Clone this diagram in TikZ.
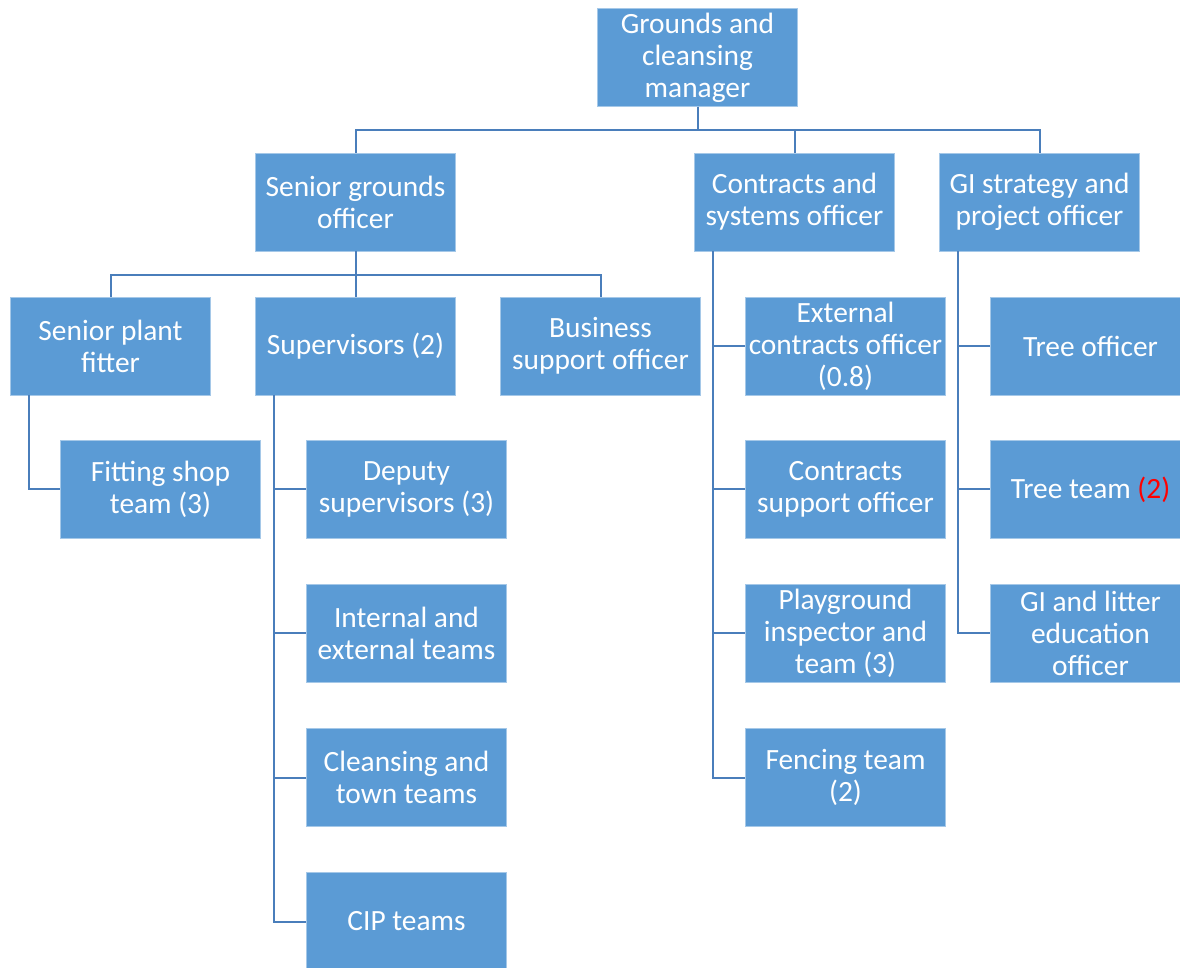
\documentclass[tikz,border=0pt]{standalone}
\usepackage{fontspec}
\setmainfont{Carlito}
\usetikzlibrary{calc}
\definecolor{boxblue}{RGB}{91,155,213}
\definecolor{linkblue}{RGB}{74,126,187}
\tikzset{every node/.style={font=\fontsize{14.7}{16}\selectfont},
box/.style={fill=boxblue,draw=boxblue!55!white,line width=.4pt,text=white,align=center,minimum width=100pt,minimum height=49pt,inner sep=0pt},
link/.style={draw=linkblue,line width=1pt}}

\begin{document}
\begin{tikzpicture}[x=.5pt,y=-.5pt]
\useasboundingbox (0,0) rectangle (1180,968);
% top and second row
\node[box] (mgr) at (697.5,57.5){Grounds and\\cleansing\\manager};
\node[box] (sgo) at (355.5,202){Senior grounds\\officer};\node[box] (con) at (794.5,202){Contracts and\\systems officer};
\node[box] (gis) at (1039.5,202){GI strategy and\\project officer};
% third row
\node[box] (fit) at (110.5,346){Senior plant\\fitter};\node[box] (sup) at (355.5,346){Supervisors (2)};
\node[box] (bus) at (600.5,346){Business\\support officer};
\node[box] (shop) at (160.5,489.5){Fitting shop\\team (3)};
% columns
\foreach \n/\y/\t in {dep/489.5/{Deputy\\supervisors (3)},ine/633.5/{Internal and\\external teams},cle/777.5/{Cleansing and\\town teams},cip/921.5/{CIP teams}}{\node[box] (\n) at (406.5,\y){\t};}
\foreach \n/\y/\t in {ext/346/{External\\contracts officer\\(0.8)},csup/489.5/{Contracts\\support officer},play/633.5/{Playground\\inspector and\\team (3)},fen/777.5/{Fencing team\\(2)}}{\node[box] (\n) at (845.5,\y){\t};}
\foreach \n/\y/\t in {tre/346/{Tree officer},team/489.5/{Tree team \textcolor{red}{(2)}},edu/633.5/{GI and litter\\education\\officer}}{\node[box] (\n) at (1090.5,\y){\t};}
% connectors
\foreach \n in {sgo,con,gis}{\draw[link] (mgr.south) -- ++(0,23) -| (\n.north);}
\foreach \n in {fit,sup,bus}{\draw[link] (sgo.south) -- ++(0,24) -| (\n.north);}
\foreach \p/\c in {fit/shop,sup/dep,sup/ine,sup/cle,sup/cip,con/ext,con/csup,con/play,con/fen,gis/tre,gis/team,gis/edu}{\draw[link] ($(\p.south west)+(19,0)$) |- (\c.west);}
\end{tikzpicture}
\end{document}
